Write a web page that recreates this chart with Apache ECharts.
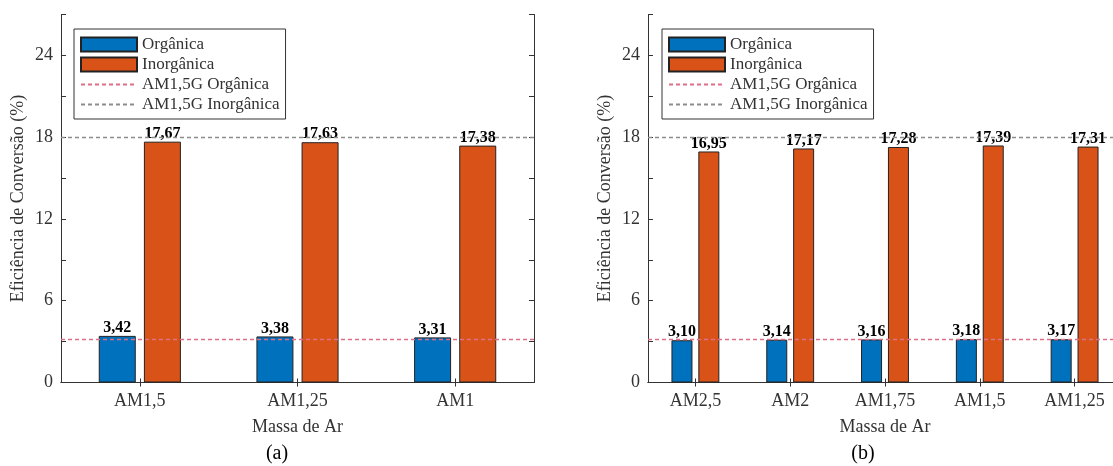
<!DOCTYPE html>
<html>
<head>
<meta charset="utf-8">
<script src="https://cdn.jsdelivr.net/npm/echarts@6/dist/echarts.min.js"></script>
<style>html,body{margin:0;padding:0;background:#fff;overflow:hidden}#c{width:1130px;height:466px}</style>
</head>
<body>
<div id="c"></div>
<script>
// ---- data ----
const catsA = ['AM1,5', 'AM1,25', 'AM1'];
const orgA = [3.42, 3.38, 3.31];
const inorgA = [17.67, 17.63, 17.38];
const catsB = ['AM2,5', 'AM2', 'AM1,75', 'AM1,5', 'AM1,25'];
const orgB = [3.10, 3.14, 3.16, 3.18, 3.17];
const inorgB = [16.95, 17.17, 17.28, 17.39, 17.31];
const refOrg = 3.18;
const refInorg = 18.0;
const yTicks = [0, 6, 12, 18, 24];

const FONT = 'Liberation Serif';
const AX = '#333333';
const BLUE = '#0072BD', ORANGE = '#D95319';
const PINK = '#DE6F86', GRAY = '#8C8C8C';
const names = ['Orgânica', 'Inorgânica', 'AM1,5G Orgânica', 'AM1,5G Inorgânica'];

const fmt = v => v.toFixed(2).replace('.', ',');

function xBottom(grid, cats) {
  return {
    type: 'category', gridIndex: grid, data: cats, position: 'bottom',
    axisLine: {lineStyle: {color: AX, width: 1}},
    axisTick: {show: true, inside: true, alignWithLabel: true, length: 4, lineStyle: {color: AX}},
    axisLabel: {fontFamily: FONT, fontSize: 18, color: '#333', margin: 10},
    name: 'Massa de Ar', nameLocation: 'middle', nameGap: 36,
    nameTextStyle: {fontFamily: FONT, fontSize: 18, color: '#333'}
  };
}
function xTop(grid, cats) {
  return {
    type: 'category', gridIndex: grid, data: cats, position: 'top',
    axisLine: {lineStyle: {color: AX, width: 1}},
    axisTick: {show: true, inside: true, alignWithLabel: true, length: 4, lineStyle: {color: AX}},
    axisLabel: {show: false}
  };
}
function yLeft(grid) {
  return {
    type: 'value', gridIndex: grid, min: 0, max: 27, interval: 3, position: 'left',
    splitLine: {show: false},
    axisLine: {show: true, lineStyle: {color: AX, width: 1}},
    axisTick: {show: true, inside: true, length: 5, lineStyle: {color: AX}},
    axisLabel: {fontFamily: FONT, fontSize: 18, color: '#333', margin: 8,
      formatter: v => yTicks.indexOf(v) >= 0 ? String(v) : ''},
    name: 'Eficiência de Conversão (%)', nameLocation: 'middle', nameGap: 34,
    nameTextStyle: {fontFamily: FONT, fontSize: 18, color: '#333'}
  };
}
function yRight(grid) {
  return {
    type: 'value', gridIndex: grid, min: 0, max: 27, interval: 3, position: 'right',
    splitLine: {show: false},
    axisLine: {show: true, lineStyle: {color: AX, width: 1}},
    axisTick: {show: true, inside: true, length: 5, lineStyle: {color: AX}},
    axisLabel: {show: false}
  };
}
function barSeries(name, data, xi, yi, color, width, gap) {
  return {
    type: 'bar', name: name, data: data, xAxisIndex: xi, yAxisIndex: yi,
    barWidth: width, barGap: gap,
    itemStyle: {color: color, borderColor: '#222', borderWidth: 1},
    label: {show: true, position: 'top', distance: 0, fontFamily: FONT, fontSize: 16,
      fontWeight: 'bold', color: '#000', formatter: p => fmt(p.value)},
    z: 2
  };
}
function refSeries(name, value, xi, yi, color) {
  return {
    type: 'line', name: name, data: [], xAxisIndex: xi, yAxisIndex: yi,
    showSymbol: false, symbol: 'none', color: color,
    itemStyle: {color: color},
    lineStyle: {color: color, width: 1, type: [4, 3]},
    markLine: {
      silent: true, symbol: 'none', label: {show: false},
      itemStyle: {color: color},
      lineStyle: {color: color, width: 1.3, type: [4, 3], opacity: 1},
      data: [{yAxis: value}]
    },
    z: 5
  };
}
function legend(left) {
  return {
    left: left, top: 29, orient: 'vertical',
    data: [
      {name: names[0], icon: 'rect'},
      {name: names[1], icon: 'rect'},
      {name: names[2], itemStyle: {opacity: 0}},
      {name: names[3], itemStyle: {opacity: 0}}
    ],
    itemWidth: 56, itemHeight: 14, itemGap: 3,
    padding: [7, 6, 6, 6],
    borderColor: '#333', borderWidth: 1, backgroundColor: '#fff',
    textStyle: {fontFamily: FONT, fontSize: 17, color: '#333'},
    selectedMode: false
  };
}

const option = {
  animation: false,
  backgroundColor: '#fff',
  grid: [
    {left: 61, top: 14.5, width: 473, height: 368},
    {left: 648, top: 14.5, width: 474, height: 368}
  ],
  xAxis: [xBottom(0, catsA), xTop(0, catsA), xBottom(1, catsB), xTop(1, catsB)],
  yAxis: [yLeft(0), yRight(0), yLeft(1), yRight(1)],
  legend: [legend(74), legend(662)],
  title: [
    {text: '(a)', left: 272, top: 439, textAlign: 'center',
      textStyle: {fontFamily: FONT, fontSize: 20, fontWeight: 'normal', color: '#000'}},
    {text: '(b)', left: 858, top: 439, textAlign: 'center',
      textStyle: {fontFamily: FONT, fontSize: 20, fontWeight: 'normal', color: '#000'}}
  ],
  series: [
    barSeries(names[0], orgA, 0, 0, BLUE, 37, '22%'),
    barSeries(names[1], inorgA, 0, 0, ORANGE, 37, '22%'),
    refSeries(names[2], refOrg, 0, 0, PINK),
    refSeries(names[3], refInorg, 0, 0, GRAY),
    barSeries(names[0], orgB, 2, 2, BLUE, 21, '28%'),
    barSeries(names[1], inorgB, 2, 2, ORANGE, 21, '28%'),
    refSeries(names[2], refOrg, 2, 2, PINK),
    refSeries(names[3], refInorg, 2, 2, GRAY)
  ]
};
const chart = echarts.init(document.getElementById('c'), null, {renderer: 'canvas'});
chart.setOption(option);
</script>
</body>
</html>
